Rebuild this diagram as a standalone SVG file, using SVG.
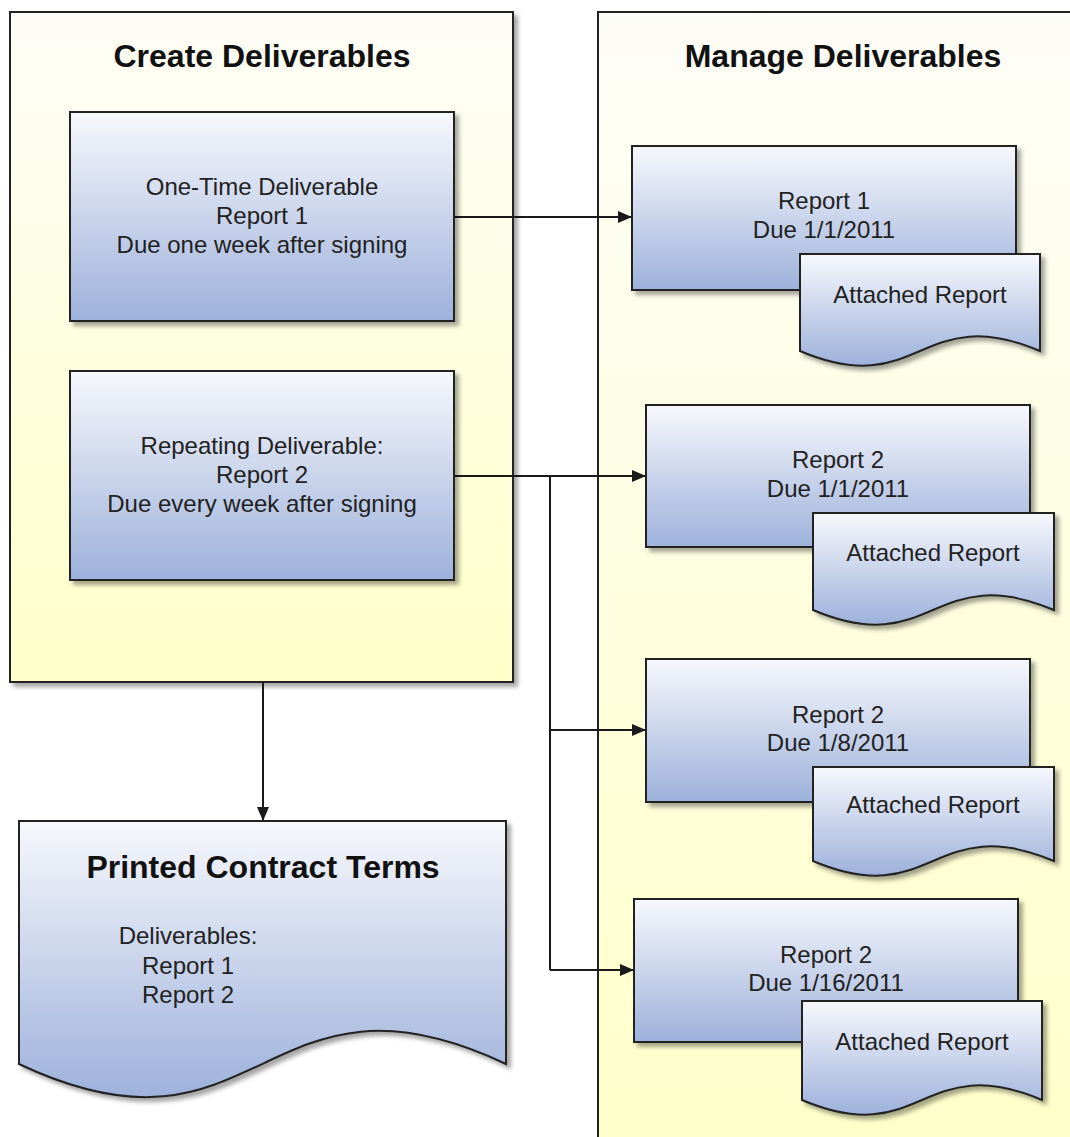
<svg xmlns="http://www.w3.org/2000/svg" width="1070" height="1137" viewBox="0 0 1070 1137">
  <defs>
    <linearGradient id="panelGrad" x1="0" y1="0" x2="0" y2="1">
      <stop offset="0" stop-color="#fdfdf7"/>
      <stop offset="1" stop-color="#ffffc9"/>
    </linearGradient>
    <linearGradient id="boxGrad" x1="0" y1="0" x2="0" y2="1">
      <stop offset="0" stop-color="#f7f8fc"/>
      <stop offset="1" stop-color="#9db1db"/>
    </linearGradient>
    <filter id="shadow" x="-10%" y="-10%" width="125%" height="125%">
      <feDropShadow dx="4" dy="4" stdDeviation="2" flood-color="#000" flood-opacity="0.35"/>
    </filter>
    <marker id="arrow" viewBox="0 0 14 12" refX="14" refY="6" markerWidth="14" markerHeight="12" markerUnits="userSpaceOnUse" orient="auto">
      <path d="M0,0 L14,6 L0,12 Z" fill="#1a1a1a"/>
    </marker>
  </defs>
  <style>
    .panel { fill: url(#panelGrad); stroke: #222; stroke-width: 2; filter: url(#shadow); }
    .box { fill: url(#boxGrad); stroke: #222; stroke-width: 2; filter: url(#shadow); }
    .title { font-family: "Liberation Sans", Arial, sans-serif; font-size: 32px; font-weight: bold; fill: #111; text-anchor: middle; }
    .label { font-family: "Liberation Sans", Arial, sans-serif; font-size: 24px; fill: #222; text-anchor: middle; }
    .conn { fill: none; stroke: #1a1a1a; stroke-width: 2; }
  </style>

  <rect width="1070" height="1137" fill="#ffffff"/>

  <g id="create-deliverables">
    <rect class="panel" x="10" y="12" width="503" height="670"/>
    <text class="title" x="262" y="67">Create Deliverables</text>
  </g>

  <g id="manage-deliverables">
    <rect class="panel" x="598" y="12" width="500" height="1150"/>
    <text class="title" x="843" y="67">Manage Deliverables</text>
  </g>

  <g id="connectors">
    <path class="conn" d="M454,217 H632" marker-end="url(#arrow)"/>
    <path class="conn" d="M454,476 H646" marker-end="url(#arrow)"/>
    <path class="conn" d="M550,476 V970"/>
    <path class="conn" d="M550,730 H646" marker-end="url(#arrow)"/>
    <path class="conn" d="M550,970 H634" marker-end="url(#arrow)"/>
    <path class="conn" d="M263,682 V821" marker-end="url(#arrow)"/>
  </g>

  <g id="one-time-deliverable">
    <rect class="box" x="70" y="112" width="384" height="209"/>
    <text class="label" x="262" y="195">One-Time Deliverable</text>
    <text class="label" x="262" y="224">Report 1</text>
    <text class="label" x="262" y="253">Due one week after signing</text>
  </g>

  <g id="repeating-deliverable">
    <rect class="box" x="70" y="371" width="384" height="209"/>
    <text class="label" x="262" y="454">Repeating Deliverable:</text>
    <text class="label" x="262" y="483">Report 2</text>
    <text class="label" x="262" y="512">Due every week after signing</text>
  </g>

  <g id="report1">
    <rect class="box" x="632" y="146" width="384" height="144"/>
    <text class="label" x="824" y="209">Report 1</text>
    <text class="label" x="824" y="238">Due 1/1/2011</text>
  </g>
  <g id="attached-report-1">
    <path class="box" d="M800,254 H1040 V351 C920,300 920,402 800,351 Z"/>
    <text class="label" x="920" y="303">Attached Report</text>
  </g>

  <g id="report2-a">
    <rect class="box" x="646" y="405" width="384" height="142"/>
    <text class="label" x="838" y="468">Report 2</text>
    <text class="label" x="838" y="497">Due 1/1/2011</text>
  </g>
  <g id="attached-report-2">
    <path class="box" d="M813,513 H1054 V610 C933,559 933,661 813,610 Z"/>
    <text class="label" x="933" y="561">Attached Report</text>
  </g>

  <g id="report2-b">
    <rect class="box" x="646" y="659" width="384" height="143"/>
    <text class="label" x="838" y="723">Report 2</text>
    <text class="label" x="838" y="751">Due 1/8/2011</text>
  </g>
  <g id="attached-report-3">
    <path class="box" d="M813,767 H1054 V861 C933,810 933,912 813,861 Z"/>
    <text class="label" x="933" y="813">Attached Report</text>
  </g>

  <g id="report2-c">
    <rect class="box" x="634" y="899" width="384" height="143"/>
    <text class="label" x="826" y="963">Report 2</text>
    <text class="label" x="826" y="991">Due 1/16/2011</text>
  </g>
  <g id="attached-report-4">
    <path class="box" d="M802,1001 H1042 V1100 C922,1049 922,1151 802,1100 Z"/>
    <text class="label" x="922" y="1050">Attached Report</text>
  </g>

  <g id="printed-contract-terms">
    <path class="box" d="M19,821 H506 V1064 C262,949 262,1179 19,1064 Z"/>
    <text class="title" x="263" y="878">Printed Contract Terms</text>
    <text class="label" x="188" y="944">Deliverables:</text>
    <text class="label" x="188" y="974">Report 1</text>
    <text class="label" x="188" y="1003">Report 2</text>
  </g>
</svg>
